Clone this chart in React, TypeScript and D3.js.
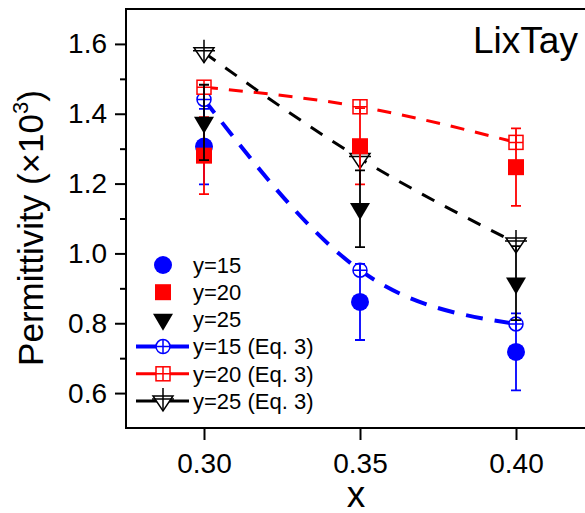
import { useEffect, useRef } from 'react';
import * as d3 from 'd3';

// x composition values
const xValues = [0.30, 0.35, 0.40];

// measured permittivity (x10^3) and error bars
const measured15 = [1.306, 0.861, 0.718];
const measured20 = [1.280, 1.307, 1.247];
const measured25 = [1.375, 1.128, 0.915];
const err15 = [0.108, 0.109, 0.110];
const err20 = [0.110, 0.109, 0.111];
const err25 = [0.108, 0.110, 0.106];

// calculated with Eq. 3
const eq15 = [1.441, 0.952, 0.798];
const eq20 = [1.476, 1.420, 1.318];
const eq25 = [1.575, 1.272, 1.030];

const seriesLabels = ['y=15', 'y=20', 'y=25', 'y=15 (Eq. 3)', 'y=20 (Eq. 3)', 'y=25 (Eq. 3)'];
const xTicks = [0.30, 0.35, 0.40];
const yTicks = [0.6, 0.8, 1.0, 1.2, 1.4, 1.6];
const yMinorTicks = [0.7, 0.9, 1.1, 1.3, 1.5];

const FONT = '"Liberation Sans", Arial, Helvetica, sans-serif';

type Kind = 'circle' | 'square' | 'triangle' | 'openCircle' | 'openSquare' | 'openTriangle';

function drawMarker(g: any, kind: Kind, cx: number, cy: number, color: string) {
  if (kind === 'circle') {
    g.append('circle').attr('cx', cx).attr('cy', cy).attr('r', 9).attr('fill', color);
  } else if (kind === 'square') {
    g.append('rect').attr('x', cx - 8).attr('y', cy - 8).attr('width', 16).attr('height', 16).attr('fill', color);
  } else if (kind === 'triangle') {
    // down triangle, data point at the centroid
    const h = 17, w = 20;
    g.append('path')
      .attr('d', `M${cx - w / 2},${cy - h / 3}L${cx + w / 2},${cy - h / 3}L${cx},${cy + (2 * h) / 3}Z`)
      .attr('fill', color);
  } else if (kind === 'openCircle') {
    const r = 7;
    g.append('circle').attr('cx', cx).attr('cy', cy).attr('r', r)
      .attr('fill', '#fff').attr('stroke', color).attr('stroke-width', 1.5);
    g.append('path')
      .attr('d', `M${cx - r},${cy}H${cx + r}M${cx},${cy - r}V${cy + r}`)
      .attr('stroke', color).attr('stroke-width', 1.5);
  } else if (kind === 'openSquare') {
    const s = 7;
    g.append('rect').attr('x', cx - s).attr('y', cy - s).attr('width', 2 * s).attr('height', 2 * s)
      .attr('fill', '#fff').attr('stroke', color).attr('stroke-width', 1.5);
    g.append('path')
      .attr('d', `M${cx - s},${cy}H${cx + s}M${cx},${cy - s}V${cy + s}`)
      .attr('stroke', color).attr('stroke-width', 1.5);
  } else {
    const top = cy - 5, apex = cy + 10, w = 10;
    g.append('path')
      .attr('d', `M${cx - w},${top}L${cx + w},${top}L${cx},${apex}Z`)
      .attr('fill', '#fff').attr('stroke', color).attr('stroke-width', 1.5);
    g.append('path')
      .attr('d', `M${cx - 11},${cy - 2}H${cx + 11}M${cx},${cy - 13}V${apex}`)
      .attr('stroke', color).attr('stroke-width', 1.5);
  }
}

const App = () => {
  const svgRef = useRef<SVGSVGElement>(null);

  useEffect(() => {
    const svg = d3.select(svgRef.current);
    svg.selectAll('*').remove();

    const margin = { top: 9, right: -9, bottom: 85, left: 126 };
    const width = 585 - margin.left - margin.right;
    const height = 513 - margin.top - margin.bottom;

    const g = svg.append('g').attr('transform', `translate(${margin.left},${margin.top})`);

    const x = d3.scaleLinear().domain([0.275, 0.425]).range([0, width]);
    const y = d3.scaleLinear().domain([0.5, 1.7]).range([height, 0]);

    // axes
    const yAxis = g.append('g')
      .call(d3.axisLeft(y).tickValues(yTicks).tickSize(11).tickPadding(8).tickFormat(d3.format('.1f')));
    g.append('g')
      .call(d3.axisLeft(y).tickValues(yMinorTicks).tickSize(6).tickFormat(() => ''));
    const xAxis = g.append('g')
      .attr('transform', `translate(0,${height})`)
      .call(d3.axisBottom(x).tickValues(xTicks).tickSize(12).tickPadding(13).tickFormat(d3.format('.2f')));

    g.selectAll('.domain').remove();
    g.selectAll('.tick line').attr('stroke', '#000').attr('stroke-width', 2);
    [yAxis, xAxis].forEach(a => a.selectAll('text')
      .style('font-family', FONT).style('font-size', '28px').attr('fill', '#000'));

    g.append('rect')
      .attr('width', width).attr('height', height)
      .attr('fill', 'none').attr('stroke', '#000').attr('stroke-width', 2);

    // Eq. 3 curves
    const eqSeries = [
      { values: eq15, color: '#0000ff', kind: 'openCircle', width: 4, dash: '17,12' },
      { values: eq20, color: '#ff0000', kind: 'openSquare', width: 3, dash: '14,11' },
      { values: eq25, color: '#000000', kind: 'openTriangle', width: 3, dash: '14,12' },
    ];
    const line = d3.line<number>()
      .x((_, i) => x(xValues[i]))
      .y(d => y(d))
      .curve(d3.curveNatural);

    eqSeries.forEach(s => {
      g.append('path')
        .attr('d', line(s.values))
        .attr('fill', 'none')
        .attr('stroke', s.color)
        .attr('stroke-width', s.width)
        .attr('stroke-dasharray', s.dash);
    });
    eqSeries.forEach(s => {
      s.values.forEach((v, i) => drawMarker(g, s.kind as Kind, x(xValues[i]), y(v), s.color));
    });

    // measured data with error bars
    const measured = [
      { values: measured15, err: err15, color: '#0000ff', kind: 'circle' },
      { values: measured20, err: err20, color: '#ff0000', kind: 'square' },
      { values: measured25, err: err25, color: '#000000', kind: 'triangle' },
    ];
    measured.forEach(s => {
      s.values.forEach((v, i) => {
        const cx = x(xValues[i]);
        const y0 = y(v - s.err[i]);
        const y1 = y(v + s.err[i]);
        drawMarker(g, s.kind as Kind, cx, y(v), s.color);
        g.append('path')
          .attr('d', `M${cx},${y0}V${y1}M${cx - 5},${y0}H${cx + 5}M${cx - 5},${y1}H${cx + 5}`)
          .attr('fill', 'none')
          .attr('stroke', s.color)
          .attr('stroke-width', 1.8);
      });
    });

    // legend
    const legendItems = [...measured, ...eqSeries];
    const legend = g.append('g').attr('transform', `translate(${163 - margin.left},${265 - margin.top})`);
    legendItems.forEach((s: any, i) => {
      const ly = i * 27.2;
      if (i >= 3) {
        legend.append('line')
          .attr('x1', -27).attr('x2', 26).attr('y1', ly).attr('y2', ly)
          .attr('stroke', s.color).attr('stroke-width', s.width);
      }
      drawMarker(legend, s.kind as Kind, 0, ly, s.color);
      legend.append('text')
        .attr('x', 30).attr('y', ly)
        .attr('dy', '0.35em')
        .style('font-family', FONT).style('font-size', '22px')
        .text(seriesLabels[i]);
    });

    // annotation
    svg.append('text')
      .attr('x', 473).attr('y', 53)
      .style('font-family', FONT).style('font-size', '37px')
      .text('LixTay');

    // axis titles
    svg.append('text')
      .attr('x', 356).attr('y', 507)
      .attr('text-anchor', 'middle')
      .style('font-family', FONT).style('font-size', '37px')
      .text('x');

    const yTitle = svg.append('text')
      .attr('transform', 'rotate(-90)')
      .attr('x', -228).attr('y', 43)
      .attr('text-anchor', 'middle')
      .style('font-family', FONT).style('font-size', '35px');
    yTitle.append('tspan').text('Permittivity (\u00d710');
    yTitle.append('tspan').attr('dy', -15).style('font-size', '22px').text('3');
    yTitle.append('tspan').attr('dy', 15).text(')');
  }, []);

  return (
    <svg
      ref={svgRef}
      width={585}
      height={513}
      style={{ position: 'absolute', left: 0, top: 0, background: '#fff' }}
    />
  );
};

export default App;
